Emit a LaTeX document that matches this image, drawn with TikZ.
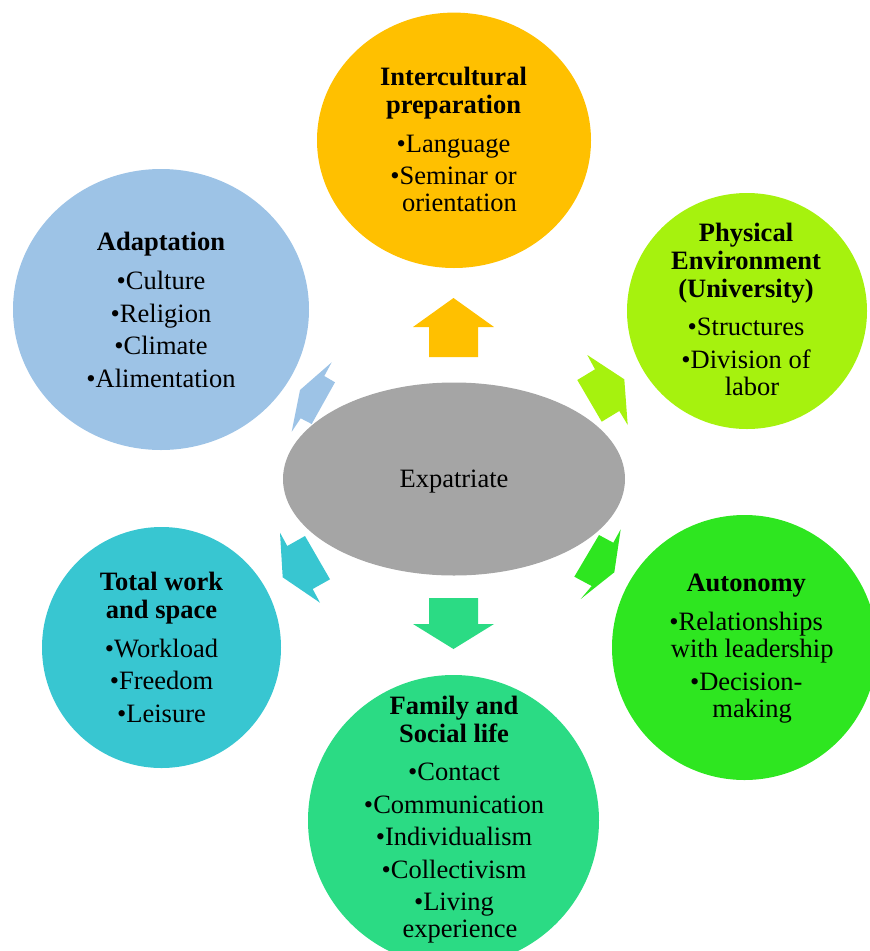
\documentclass[tikz,border=0pt]{standalone}
\usepackage{fontspec}
\setmainfont{Liberation Serif}
\usetikzlibrary{shapes.geometric}

\definecolor{prepgold}{HTML}{FFC000}
\definecolor{adaptblue}{HTML}{9DC3E6}
\definecolor{physlime}{HTML}{A6F20E}
\definecolor{autogreen}{HTML}{2EE620}
\definecolor{famgreen}{HTML}{2BDB84}
\definecolor{workteal}{HTML}{38C6D1}
\definecolor{expatgray}{HTML}{A5A5A5}

% vertical gaps between heading lines, after a heading and between bullet items
\newcommand{\titlegap}{1.3pt}
\newcommand{\headgap}{12.3pt}
\newcommand{\itemgap}{5.6pt}
% hanging indent of a wrapped bullet line
\newcommand{\wrapin}{\hspace*{12pt}}

\begin{document}
\begin{tikzpicture}[x=1pt,y=-1pt,
  bubble/.style={ellipse,inner sep=0pt,outer sep=0pt,draw=none},
  bubtxt/.style={inner sep=0pt,outer sep=0pt,anchor=base,
                 font=\fontsize{26.5}{26.9}\selectfont},
  blockarrow/.style={draw=none}]
\useasboundingbox (0,0) rectangle (870,951);
\clip (0,0) rectangle (870,951);

% outer bubbles
\node[bubble,fill=prepgold, minimum width=274pt,minimum height=255.4pt] (prep)  at (454,140.3) {};
\node[bubble,fill=adaptblue,minimum width=296pt,minimum height=281pt]   (adapt) at (161,309.5) {};
\node[bubble,fill=physlime, minimum width=240pt,minimum height=236pt]   (phys)  at (747,311) {};
\node[bubble,fill=autogreen,minimum width=265pt,minimum height=265pt]   (auto)  at (744.5,647.5) {};
\node[bubble,fill=famgreen, minimum width=291pt,minimum height=291pt]   (fam)   at (453.5,820.5) {};
\node[bubble,fill=workteal, minimum width=239pt,minimum height=241pt]   (work)  at (161.5,647.5) {};

% central ellipse
\node[bubble,fill=expatgray,minimum width=342pt,minimum height=193pt] (expat) at (454,479) {};

% diverging block arrows
\fill[blockarrow,prepgold] (413,327) -- (453.5,298) -- (494,327) -- (478,327)
  -- (478,357) -- (429,357) -- (429,327) -- cycle;
\fill[blockarrow,famgreen] (413,624) -- (453.5,649) -- (494,624) -- (478,624)
  -- (478,598) -- (429,598) -- (429,624) -- cycle;
\fill[blockarrow,physlime] (587.3,355) -- (595,369.3) -- (577.3,380) -- (601.7,421.7)
  -- (619.3,411) -- (627.7,425) -- (624.3,379.3) -- cycle;
\fill[blockarrow,adaptblue] (331.7,362.3) -- (324.3,376) -- (335,382.3) -- (311.7,424)
  -- (300.7,418.3) -- (291.7,431.7) -- (300,390) -- cycle;
\fill[blockarrow,workteal] (280,532.7) -- (287.3,546) -- (305,536) -- (330,579.3)
  -- (312.7,589) -- (320,602.7) -- (282.7,577.3) -- cycle;
\fill[blockarrow,autogreen] (620.7,529.3) -- (613.3,542.7) -- (599,535) -- (574.3,576.7)
  -- (591.7,586) -- (580.7,599) -- (614.3,572.3) -- cycle;

% texts
\node[bubtxt] (expattxt) at (454,487) {Expatriate};

\node[bubtxt] (preptxt) at (453.5,85) {\begin{tabular}[t]{@{}c@{}}
  \textbf{Intercultural}\\[\titlegap] \textbf{preparation}\\[\headgap]
  •Language\\[\itemgap] •Seminar or\\ \wrapin orientation\end{tabular}};

\node[bubtxt] (adapttxt) at (161,250.7) {\begin{tabular}[t]{@{}c@{}}
  \textbf{Adaptation}\\[\headgap]
  •Culture\\[\itemgap] •Religion\\[\itemgap] •Climate\\[\itemgap] •Alimentation\end{tabular}};

\node[bubtxt] (phystxt) at (746,241) {\begin{tabular}[t]{@{}c@{}}
  \textbf{Physical}\\[\titlegap] \textbf{Environment}\\[\titlegap] \textbf{(University)}\\[11.6pt]
  •Structures\\[\itemgap] •Division of\\ \wrapin labor\end{tabular}};

\node[bubtxt] (autotxt) at (746.2,591.7) {\begin{tabular}[t]{@{}c@{}}
  \textbf{Autonomy}\\[\headgap]
  •Relationships\\ \wrapin with leadership\\[\itemgap] •Decision-\\ \wrapin making\end{tabular}};

\node[bubtxt] (famtxt) at (454,714) {\begin{tabular}[t]{@{}c@{}}
  \textbf{Family and}\\[\titlegap] \textbf{Social life}\\[11.5pt]
  •Contact\\[\itemgap] •Communication\\[\itemgap] •Individualism\\[\itemgap]
  •Collectivism\\[\itemgap] •Living\\ \wrapin experience\end{tabular}};

\node[bubtxt] (worktxt) at (161.5,590) {\begin{tabular}[t]{@{}c@{}}
  \textbf{Total work}\\[\titlegap] \textbf{and space}\\[\headgap]
  •Workload\\[\itemgap] •Freedom\\[\itemgap] •Leisure\end{tabular}};
\end{tikzpicture}
\end{document}
